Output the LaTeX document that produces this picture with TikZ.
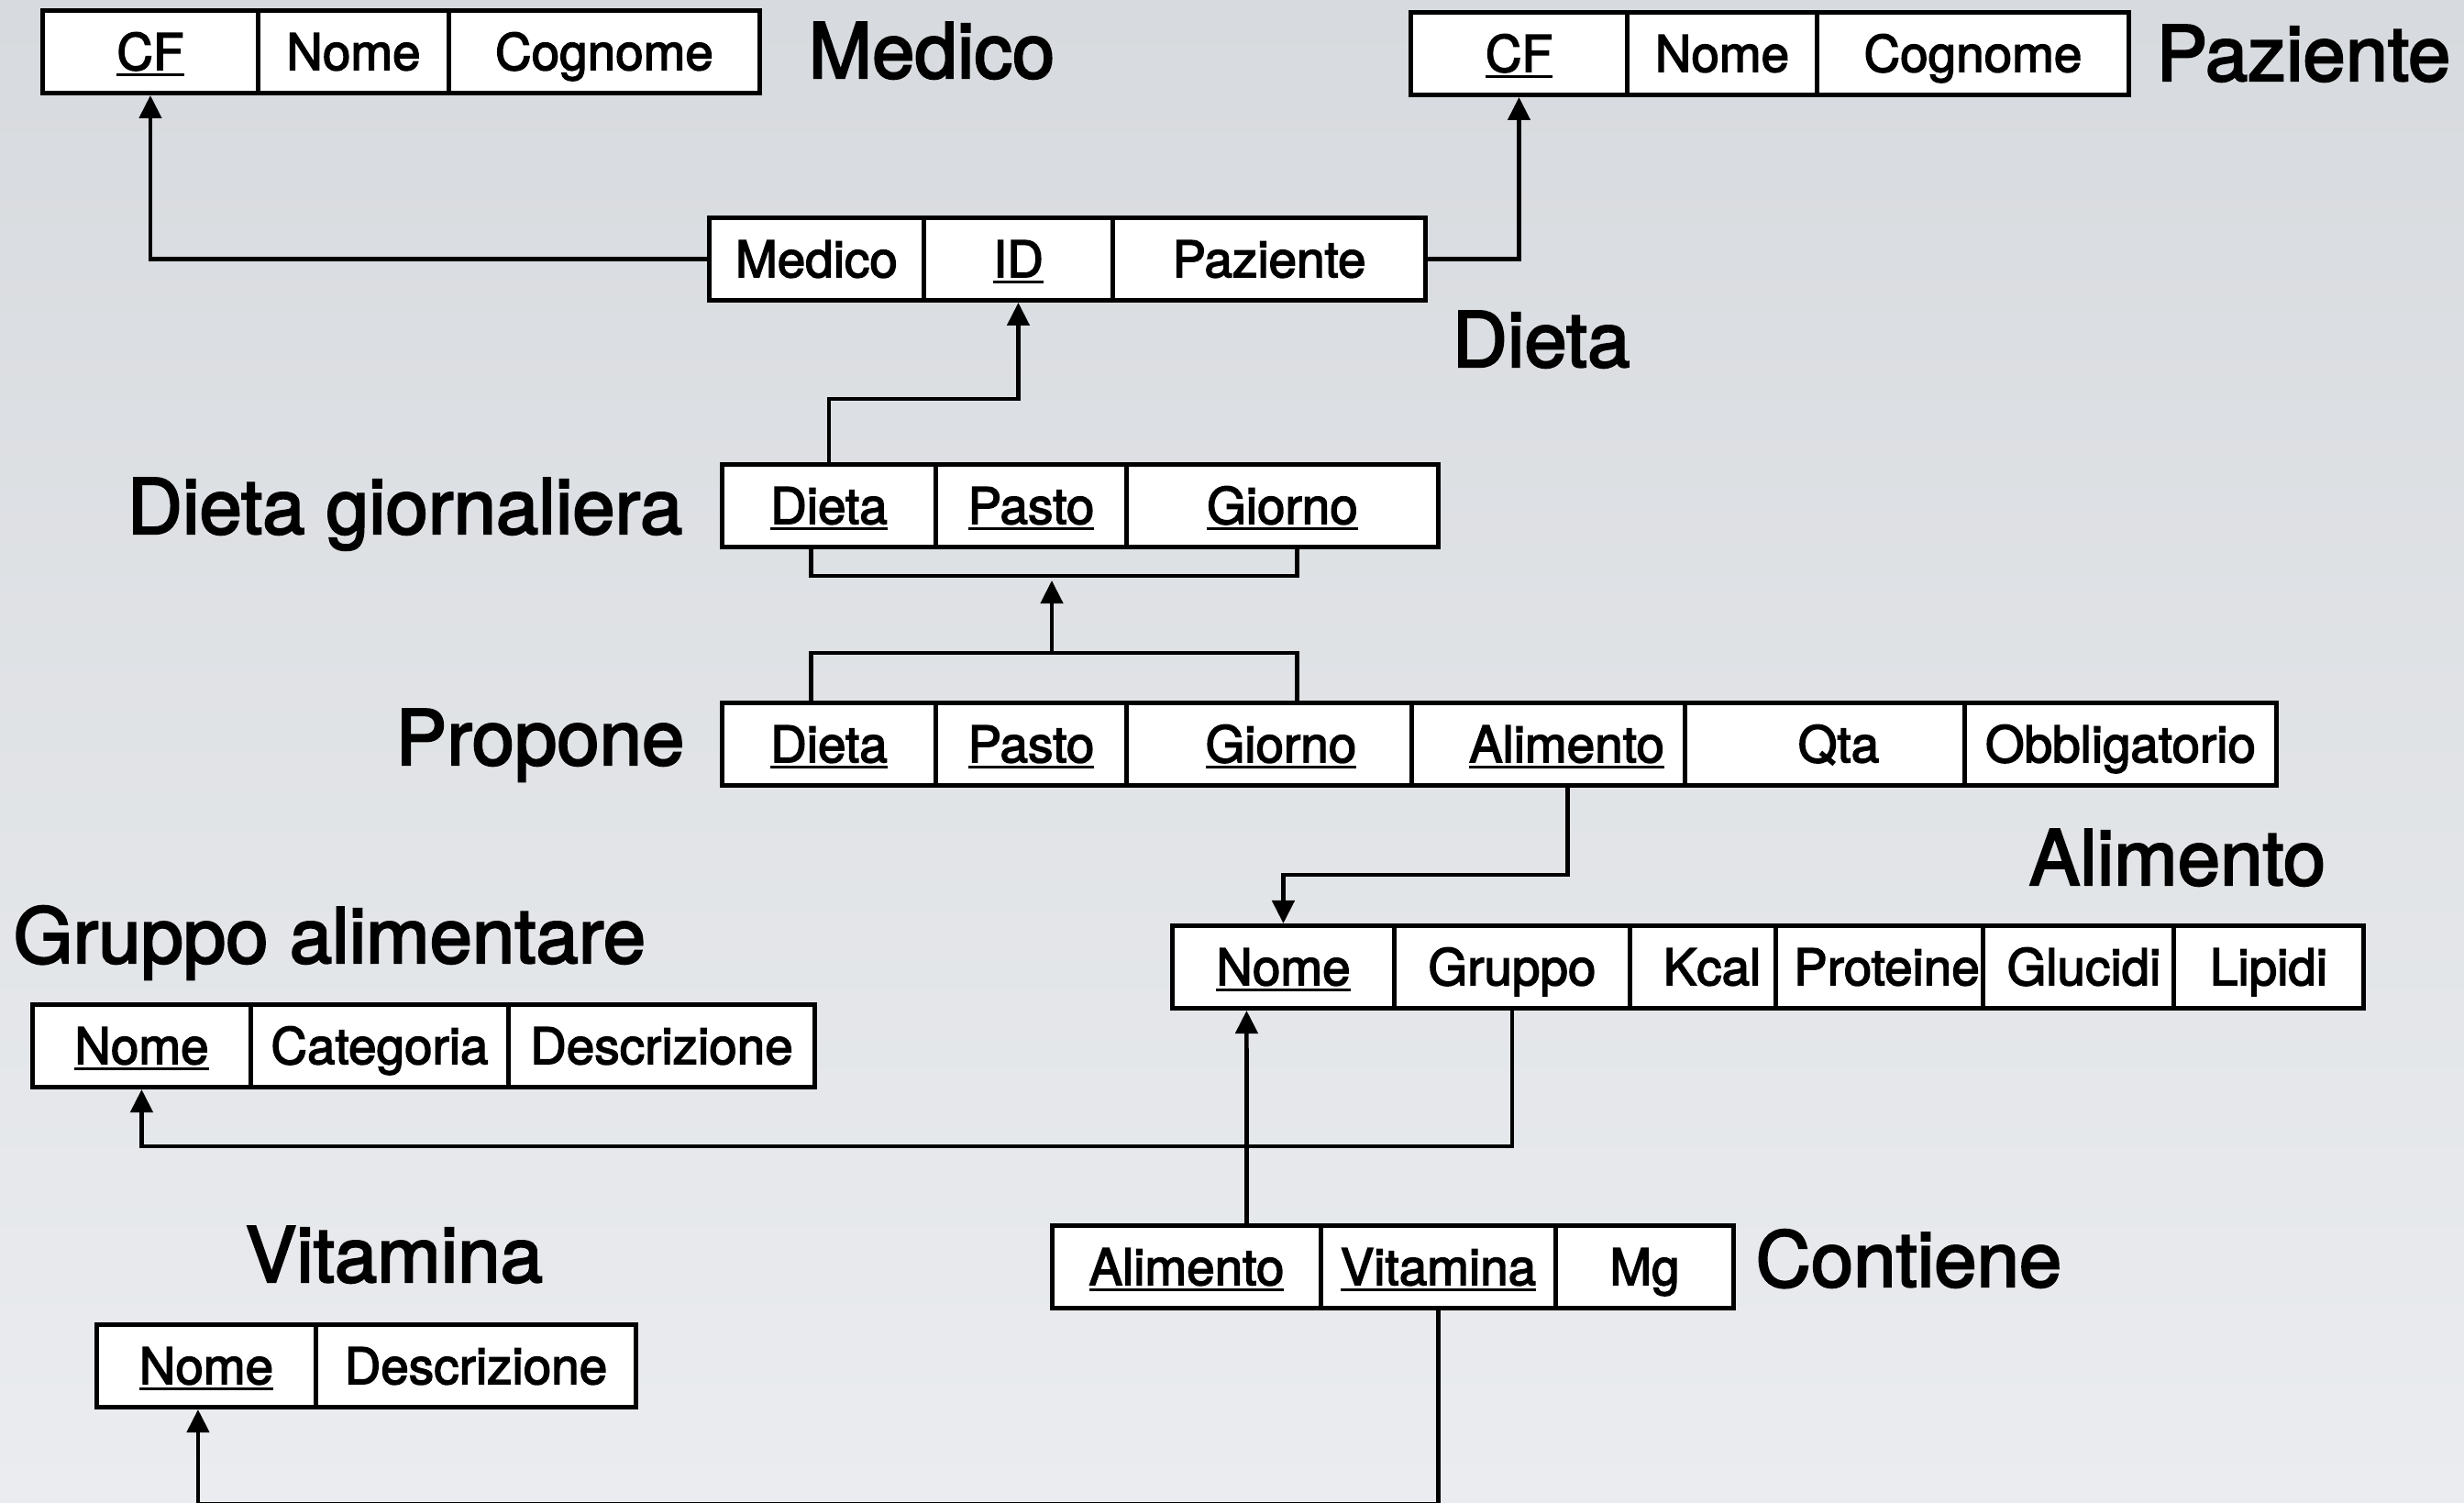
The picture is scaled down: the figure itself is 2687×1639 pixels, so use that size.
\documentclass[tikz,border=0pt]{standalone}
\usepackage{fontspec}
\setmainfont{TeX Gyre Heros}[FakeBold=2.6]
\usetikzlibrary{arrows.meta}

\definecolor{bgtop}{HTML}{D7DADE}
\definecolor{bgmid}{HTML}{ECEDF0}
\definecolor{bgbot}{HTML}{EAECEF}

% primary-key attribute: underlined name
\newsavebox\pkbox
\newcommand{\pk}[1]{\sbox\pkbox{#1}\rlap{\rule[-1.9pt]{\wd\pkbox}{0.95pt}}\usebox\pkbox}

% one attribute cell: name, left x, right x, top y, text
\newcommand{\fld}[5]{\node[cell, minimum width={(#3-#2)*0.01cm}] (#1) at (#2,#4) {#5};}

\tikzset{
  cell/.style={draw, line width=1.4pt, fill=white, inner sep=0pt, anchor=north west,
    minimum height=0.9cm, text height=11.2pt, text depth=0pt,
    font=\fontsize{15.6}{18}\selectfont},
  title/.style={anchor=base west, inner sep=0pt, font=\fontsize{23.7}{28}\selectfont},
  link/.style={line width=1.3pt},
  arr/.style={link, -{Triangle[length=0.25cm,width=0.24cm]}},
}

\begin{document}
\begin{tikzpicture}[x=0.01cm, y=-0.01cm]
\useasboundingbox (0,0) rectangle (2687,1639);
\shade[top color=bgtop, middle color=bgmid, bottom color=bgbot] (0,0) rectangle (2687,1639);

% Medico
\fld{med-cf}{44}{279}{9}{\pk{CF}}
\fld{med-nome}{279}{487}{9}{Nome}
\fld{med-cog}{487}{826}{9}{Cognome}
\node[title] (t-med) at (881,85) {Medico};

% Paziente
\fld{paz-cf}{1536}{1772}{11}{\pk{CF}}
\fld{paz-nome}{1772}{1979}{11}{Nome}
\fld{paz-cog}{1979}{2319}{11}{Cognome}
\node[title] (t-paz) at (2351,88) {Paziente};

% Dieta
\fld{die-med}{771}{1005}{235}{Medico}
\fld{die-id}{1005}{1211}{235}{\pk{ID}}
\fld{die-paz}{1211}{1552}{235}{Paziente}
\node[title] (t-die) at (1583,400) {Dieta};

% Dieta giornaliera
\fld{dg-die}{785}{1018}{504}{\pk{Dieta}}
\fld{dg-pas}{1018}{1226}{504}{\pk{Pasto}}
\fld{dg-gio}{1226}{1566}{504}{\pk{Giorno}}
\node[title, anchor=base east] (t-dg) at (745,582) {Dieta giornaliera};

% Propone
\fld{pr-die}{785}{1018}{764}{\pk{Dieta}}
\fld{pr-pas}{1018}{1226}{764}{\pk{Pasto}}
\fld{pr-gio}{1226}{1537}{764}{\hspace*{0.26cm}\pk{Giorno}}
\fld{pr-ali}{1537}{1835}{764}{\hspace*{0.4cm}\pk{Alimento}}
\fld{pr-qta}{1835}{2140}{764}{\hspace*{0.3cm}Qta}
\fld{pr-obb}{2140}{2480}{764}{Obbligatorio}
\node[title, anchor=base east] (t-pr) at (747,834) {Propone};

% Alimento
\fld{al-nome}{1276}{1518}{1007}{\pk{Nome}}
\fld{al-gru}{1518}{1775}{1007}{Gruppo}
\fld{al-kcal}{1775}{1934}{1007}{\hspace*{0.2cm}Kcal}
\fld{al-pro}{1934}{2160}{1007}{\hspace*{0.16cm}Proteine}
\fld{al-glu}{2160}{2368}{1007}{\hspace*{0.12cm}Glucidi}
\fld{al-lip}{2368}{2575}{1007}{Lipidi}
\node[title] (t-al) at (2212,965) {Alimento};

% Gruppo alimentare
\fld{ga-nome}{33}{271}{1093}{\pk{Nome}}
\fld{ga-cat}{271}{552}{1093}{Categoria}
\fld{ga-des}{552}{886}{1093}{Descrizione}
\node[title] (t-ga) at (14,1050) {Gruppo alimentare};

% Contiene
\fld{co-ali}{1145}{1438}{1334}{\pk{Alimento}}
\fld{co-vit}{1438}{1694}{1334}{\pk{Vitamina}}
\fld{co-mg}{1694}{1888}{1334}{Mg}
\node[title] (t-co) at (1914,1403) {Contiene};

% Vitamina
\fld{vi-nome}{103}{342}{1442}{\pk{Nome}}
\fld{vi-des}{342}{691}{1442}{Descrizione}
\node[title] (t-vi) at (267,1398) {Vitamina};

% foreign keys
\draw[arr] (die-med.west) -| (med-cf.south);
\draw[arr] (die-paz.east) -| (paz-cf.south);
\draw[arr] (dg-die.north) -- ++(0,-69) -| (die-id.south);

% composite key brackets
\draw[link] ([xshift=-0.195cm]dg-die.south) -- ++(0,29) -| ([xshift=0.16cm]dg-gio.south);
\draw[link] ([xshift=-0.195cm]pr-die.north) -- ++(0,-52) -| ([xshift=0.305cm]pr-gio.north);
\coordinate (dgkey) at (1147,622);
\coordinate (prkey) at (1147,712);
\draw[arr, shorten >=0.11cm] (prkey) -- (dgkey);

\draw[arr] ([xshift=0.21cm]pr-ali.south) -- ++(0,95) -| (al-nome.north);
\draw[arr] (al-gru.south) -- ++(0,148) -| (ga-nome.south);
\draw[arr] ([xshift=0.655cm]co-ali.north) -- ([xshift=-0.40cm]al-nome.south);
\draw[arr] (co-vit.south) -- ++(0,211) -| ([xshift=-0.09cm]vi-nome.south);
\end{tikzpicture}
\end{document}
